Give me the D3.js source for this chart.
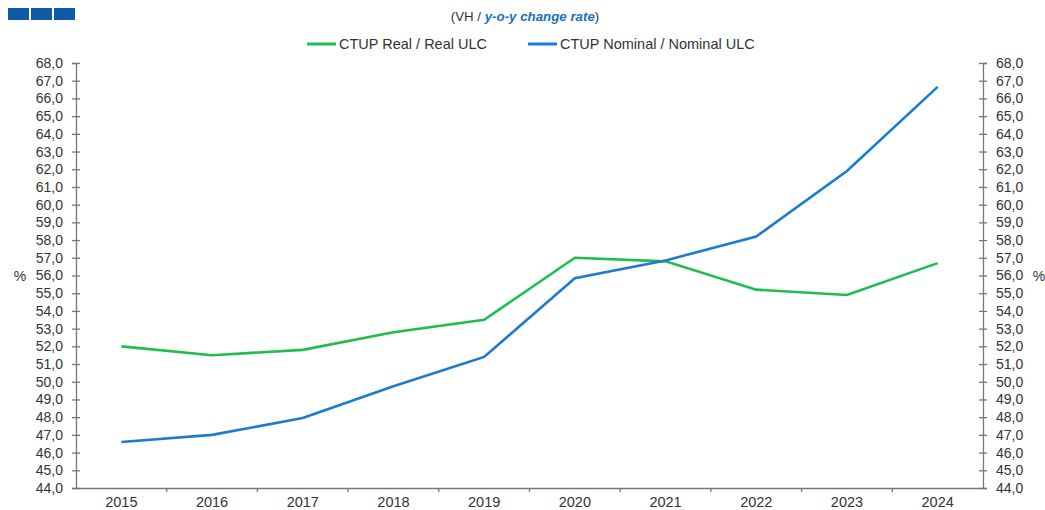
<!DOCTYPE html>
<html>
<head>
<meta charset="utf-8">
<script src="https://cdn.jsdelivr.net/npm/d3@7"></script>
<style>
body { margin: 0; background: #fff; }
text { font-family: "Liberation Sans", Arial, sans-serif; }
</style>
</head>
<body>
<div id="chart"></div>
<script>
// data
var years = ["2015","2016","2017","2018","2019","2020","2021","2022","2023","2024"];
var realUlc = [52.0, 51.5, 51.8, 52.8, 53.5, 57.0, 56.8, 55.2, 54.9, 56.7];
var nominalUlc = [46.6, 47.0, 47.95, 49.75, 51.4, 55.85, 56.85, 58.2, 61.9, 66.65];
var yTicks = d3.range(44, 68.5, 1);
var seriesNames = ["CTUP Real / Real ULC", "CTUP Nominal / Nominal ULC"];
var seriesColors = ["#1ebe4e", "#1a7bd0"];

var width = 1045, height = 510;
// plot box (window.top is reserved, so prefix these)
var plotLeft = 76, plotRight = 983, plotTop = 63, plotBottom = 488;

var svg = d3.select("#chart").append("svg")
  .attr("width", width)
  .attr("height", height);

// little blue blocks top-left
svg.selectAll(".blk")
  .data([0, 1, 2])
  .enter()
  .append("rect")
  .attr("x", function(d) { return 8 + d * 23; })
  .attr("y", 8)
  .attr("width", 21)
  .attr("height", 12)
  .style("fill", "#0f5ba6");

var x = d3.scaleBand().domain(years).range([plotLeft, plotRight]);
var y = d3.scaleLinear().domain([44, 68]).range([plotBottom, plotTop]);
var fmt = function(v) { return d3.format(".1f")(v).replace(".", ","); };

// title
var title = svg.append("text")
  .attr("x", 525)
  .attr("y", 21)
  .attr("text-anchor", "middle")
  .attr("font-size", "13.3px")
  .style("fill", "#333");
title.append("tspan").text("(VH / ");
title.append("tspan").text("y-o-y change rate")
  .style("font-weight", "bold").style("font-style", "italic").style("fill", "#1a6fc0");
title.append("tspan").text(")");

// legend
var legendX = [307, 528];
seriesNames.forEach(function(name, i) {
  svg.append("line")
    .attr("x1", legendX[i]).attr("x2", legendX[i] + 29)
    .attr("y1", 44).attr("y2", 44)
    .style("stroke", seriesColors[i])
    .style("stroke-width", 3);
  svg.append("text")
    .attr("x", legendX[i] + 32)
    .attr("y", 49)
    .attr("font-size", "14.5px")
    .style("fill", "#333")
    .text(name);
});

// axes
function styleAxis(g) {
  g.select(".domain").style("stroke", "#777").style("stroke-width", 1.3);
  g.selectAll(".tick line").style("stroke", "#777").style("stroke-width", 1.3);
  g.selectAll(".tick text").style("fill", "#333").attr("font-size", "14px")
    .style("font-family", "'Liberation Sans', Arial, sans-serif");
}

var yl = svg.append("g")
  .attr("transform", "translate(" + plotLeft + ",0)")
  .call(d3.axisLeft(y).tickValues(yTicks).tickFormat(fmt).tickSizeOuter(0).tickSize(4).tickPadding(9));
yl.selectAll(".tick line").attr("x2", 4).attr("x1", -4);
styleAxis(yl);

var yr = svg.append("g")
  .attr("transform", "translate(" + plotRight + ",0)")
  .call(d3.axisRight(y).tickValues(yTicks).tickFormat(fmt).tickSizeOuter(0).tickSize(4).tickPadding(9));
yr.selectAll(".tick line").attr("x1", -4).attr("x2", 4);
styleAxis(yr);

// x axis with ticks between categories
var xg = svg.append("g")
  .attr("transform", "translate(0," + plotBottom + ")")
  .call(d3.axisBottom(x).tickSize(0).tickPadding(9));
styleAxis(xg);
xg.selectAll(".tick text").attr("font-size", "14.5px");
svg.selectAll(".xtick")
  .data(years.slice(1))
  .enter()
  .append("line")
  .attr("x1", function(d) { return x(d); })
  .attr("x2", function(d) { return x(d); })
  .attr("y1", plotBottom)
  .attr("y2", plotBottom + 4)
  .style("stroke", "#777")
  .style("stroke-width", 1.3);

// % labels
svg.append("text").attr("x", 20).attr("y", 281).attr("text-anchor", "middle")
  .attr("font-size", "14px").style("fill", "#333").text("%");
svg.append("text").attr("x", 1039).attr("y", 281).attr("text-anchor", "middle")
  .attr("font-size", "14px").style("fill", "#333").text("%");

// lines
var line = d3.line()
  .x(function(d, i) { return x(years[i]) + x.bandwidth() / 2; })
  .y(function(d) { return y(d); });

[realUlc, nominalUlc].forEach(function(vals, i) {
  svg.append("path")
    .datum(vals)
    .attr("d", line)
    .style("fill", "none")
    .style("stroke", seriesColors[i])
    .style("stroke-width", 2.6);
});
</script>
</body>
</html>
